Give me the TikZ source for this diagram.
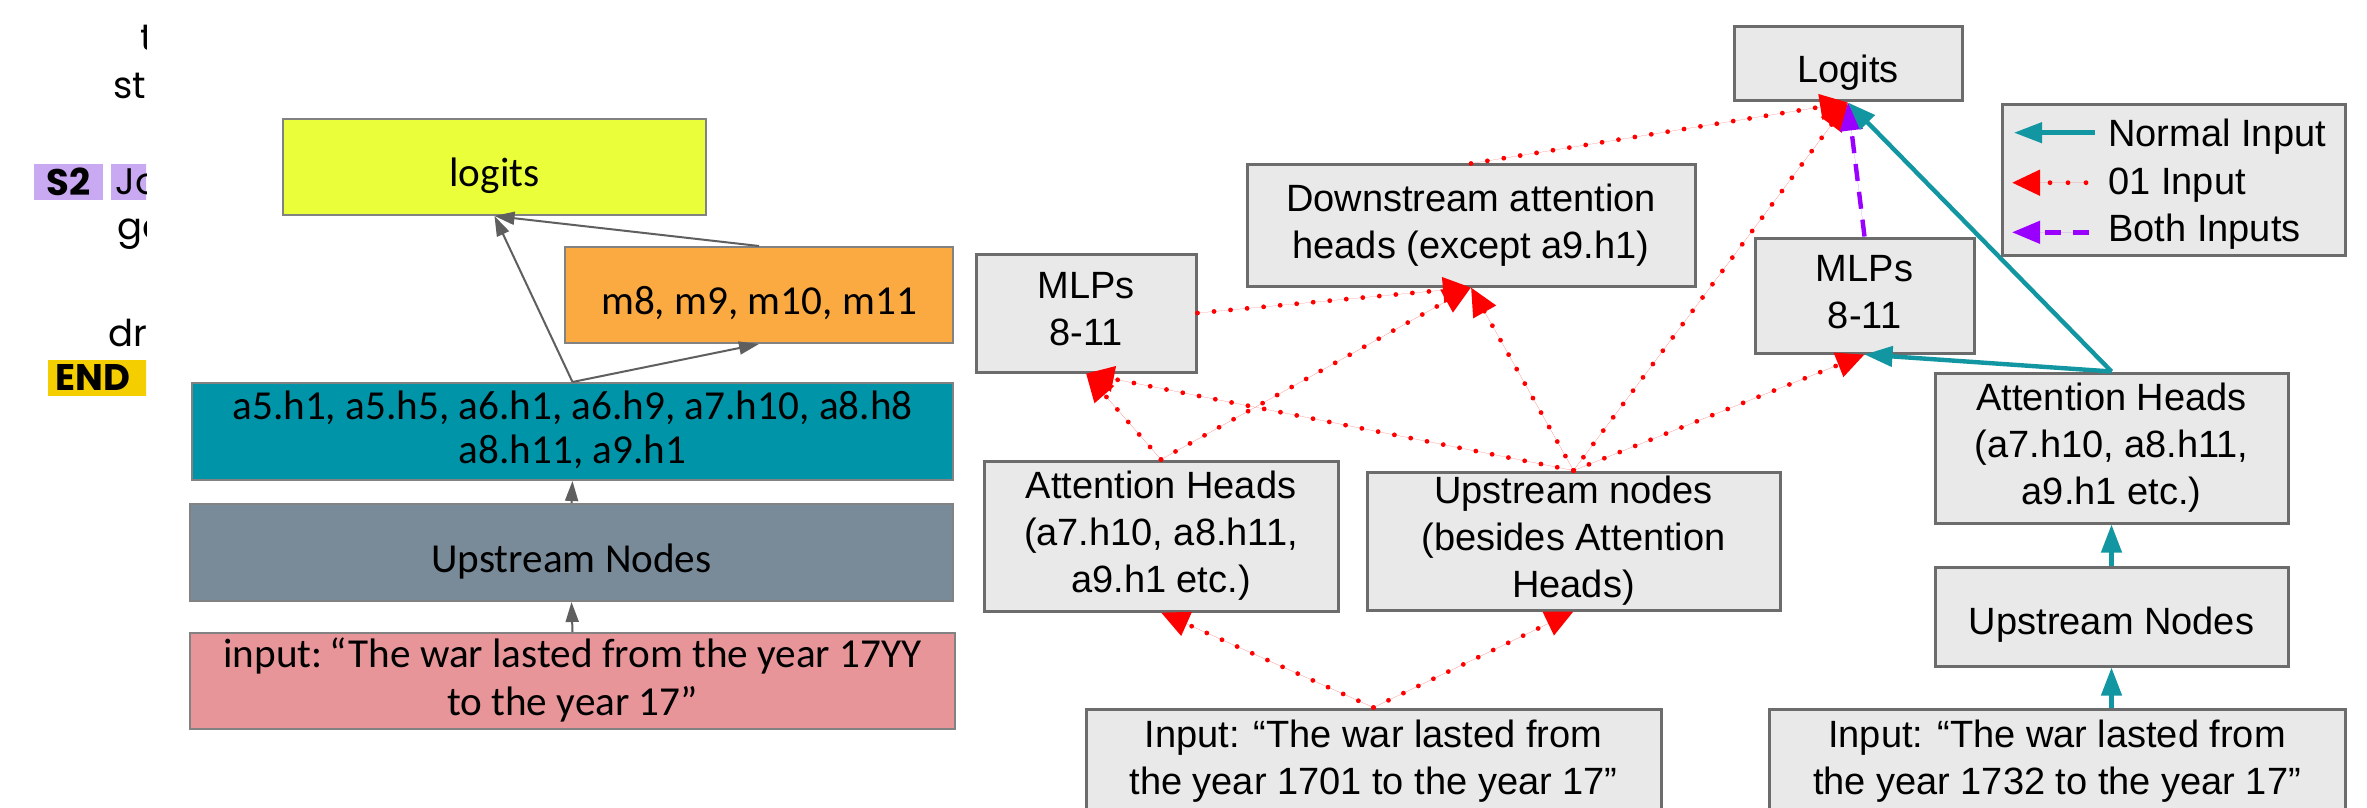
\documentclass[tikz,border=0pt]{standalone}
\usepackage{fontspec}
\setmainfont{Liberation Sans}
\newfontfamily\carlfont{Carlito}
\newfontfamily\popfont{Poppins}
\usetikzlibrary{arrows.meta}

\definecolor{boxfill}{RGB}{233,233,233}
\definecolor{boxline}{RGB}{108,108,108}
\definecolor{redline}{RGB}{255,0,0}
\definecolor{tealline}{RGB}{18,150,162}
\definecolor{purpline}{RGB}{153,0,255}
\definecolor{ylw}{RGB}{234,255,58}
\definecolor{org}{RGB}{250,170,64}
\definecolor{tealbox}{RGB}{0,148,168}
\definecolor{slate}{RGB}{121,139,153}
\definecolor{pinkbox}{RGB}{232,149,153}
\definecolor{lav}{RGB}{201,170,242}
\definecolor{gold}{RGB}{245,206,0}
\definecolor{grayarrow}{RGB}{95,95,95}

% struts: extra room above the first line, font descent below the last
\newcommand\topstrut{\rule{0pt}{1.17em}}
\newcommand\botstrut{\rule[-0.21em]{0pt}{0.21em}}

\begin{document}
\begin{tikzpicture}[x=0.5pt,y=-0.5pt,
  gbox/.style={draw=boxline, line width=1.5pt, fill=boxfill, inner sep=0pt,
    align=center, font=\fontsize{19}{23.5}\selectfont,
    execute at begin node=\topstrut, execute at end node=\botstrut},
  lbox/.style={draw=boxline!85, line width=1pt, inner sep=0pt, align=center,
    font=\carlfont\fontsize{20.6}{22}\selectfont,
    execute at begin node=\topstrut, execute at end node=\botstrut},
  grayarr/.style={draw=grayarrow, line width=1pt,
    -{Triangle[length=10pt,width=6.5pt]}, fill=grayarrow},
  zeroone/.style={draw=redline, line width=2.4pt, line cap=round,
    dash pattern=on 0pt off 8.3pt,
    -{Triangle[length=14pt,width=12.5pt]}, fill=redline},
  normalin/.style={draw=tealline, line width=2.2pt,
    -{Triangle[length=14pt,width=10pt]}, fill=tealline},
  bothin/.style={draw=purpline, line width=2.2pt,
    dash pattern=on 8.5pt off 5.5pt,
    -{Triangle[length=14pt,width=11pt]}, fill=purpline},
  sidetext/.style={anchor=base west, inner sep=0pt,
    font=\popfont\fontsize{18.5}{22}\selectfont},
  legtext/.style={anchor=base west, inner sep=0pt,
    font=\fontsize{19}{23.5}\selectfont}]

\useasboundingbox (0,0) rectangle (2367,808);
\fill[white] (0,0) rectangle (2367,808);

% ---- cropped column of text at the far left ----
\begin{scope}
  \clip (0,0) rectangle (146,808);
  \node[sidetext] (wt) at (140,51) {t};
  \node[sidetext] (wst) at (113,99) {st};
  \node[fill=lav, inner sep=0pt, minimum width=34.5pt, minimum height=18pt,
        font=\popfont\bfseries\fontsize{18.5}{22}\selectfont] (s2) at (68.5,182) {S2};
  \node[fill=lav, anchor=west, inner xsep=2pt, inner ysep=0pt, text width=24pt,
        align=left, minimum height=18pt,
        font=\popfont\fontsize{18.5}{22}\selectfont] (jo) at (111,182) {Jo};
  \node[sidetext] (wga) at (117,239) {ga};
  \node[sidetext] (wdr) at (108,346) {dr};
  \node[fill=gold, anchor=west, inner xsep=3.5pt, inner ysep=0pt, text width=52pt,
        align=left, minimum height=18pt,
        font=\popfont\bfseries\fontsize{18.5}{22}\selectfont] (endtok) at (48,378) {END};
\end{scope}

% ---- left graph: coloured boxes ----
\node[lbox, fill=ylw, minimum width=211.5pt, minimum height=48pt] (logL) at (494.5,167) {logits};
\node[lbox, fill=org, minimum width=194pt, minimum height=48pt] (mlpsL) at (759,295) {m8, m9, m10, m11};
\node[lbox, fill=tealbox, minimum width=380.5pt, minimum height=48.5pt] (heads) at (572.5,431.5)
  {a5.h1, a5.h5, a6.h1, a6.h9, a7.h10, a8.h8\\a8.h11, a9.h1};
\node[lbox, fill=slate, minimum width=381.5pt, minimum height=48.5pt] (upL) at (571.5,552.5) {Upstream Nodes};
\node[lbox, fill=pinkbox, minimum width=382.5pt, minimum height=48pt,
      font=\carlfont\fontsize{20.6}{24}\selectfont] (inL) at (572.5,681)
  {input:\,“The war lasted from the year 17YY\\to the year 17”};

\draw[grayarr] (heads.north) -- (logL.south);
\draw[grayarr] (heads.north) -- (mlpsL.south);
\draw[grayarr] (mlpsL.north) -- (logL.south);
\draw[grayarr] (upL.north) -- (heads.south);
\draw[grayarr] (inL.north) -- (upL.south);

% ---- right graph: grey boxes ----
\node[gbox, minimum width=114pt, minimum height=37pt] (logR) at (1848,64) {Logits};
\node[gbox, minimum width=224pt, minimum height=60.5pt] (down) at (1471,225.5)
  {Downstream attention\\heads (except a9.h1)};
\node[gbox, minimum width=110pt, minimum height=59pt] (mlpA) at (1086,313) {MLPs\\8-11};
\node[gbox, minimum width=109.5pt, minimum height=57.5pt] (mlpB) at (1864.5,295.5) {MLPs\\8-11};
\node[gbox, minimum width=177pt, minimum height=75pt] (attA) at (1161,536)
  {Attention Heads\\(a7.h10, a8.h11,\\a9.h1 etc.)};
\node[gbox, minimum width=206.5pt, minimum height=69pt] (upA) at (1573.5,541)
  {Upstream nodes\\(besides Attention\\Heads)};
\node[gbox, minimum width=176.5pt, minimum height=75pt] (attB) at (2111.5,448)
  {Attention Heads\\(a7.h10, a8.h11,\\a9.h1 etc.)};
\node[gbox, minimum width=176.5pt, minimum height=49.5pt] (upB) at (2111.5,616.5) {Upstream Nodes};
\node[gbox, minimum width=287.5pt, minimum height=52pt] (inA) at (1373.5,761)
  {Input: “The war lasted from\\the year 1701 to the year 17”};
\node[gbox, minimum width=288pt, minimum height=52pt] (inB) at (2057,761)
  {Input: “The war lasted from\\the year 1732 to the year 17”};

% corrupted-input (01) connections
\draw[zeroone] (down.north) -- (logR.south);
\draw[zeroone] (mlpA.east) -- (down.south);
\draw[zeroone] (attA.north) -- (down.south);
\draw[zeroone] (attA.north) -- (mlpA.south);
\draw[zeroone] (upA.north) -- (mlpA.south);
\draw[zeroone] (upA.north) -- (down.south);
\draw[zeroone] (upA.north) -- (logR.south);
\draw[zeroone] (upA.north) -- (mlpB.south);
\draw[zeroone] (inA.north) -- (attA.south);
\draw[zeroone] (inA.north) -- (upA.south);

% connection fed by both inputs
\draw[bothin] (mlpB.north) -- (logR.south);

% clean-input connections
\draw[normalin] (attB.north) -- (mlpB.south);
\draw[normalin] (attB.north) -- (logR.south);
\draw[normalin] (upB.north) -- (attB.south);
\draw[normalin] (upB.south |- inB.north) -- (upB.south);

% ---- legend ----
\node[gbox, minimum width=171.5pt, minimum height=75pt] (legend) at (2173.5,180) {};
\node[legtext] (legN) at (2108,146.5) {Normal Input};
\node[legtext] (legZ) at (2108,194) {01 Input};
\node[legtext] (legB) at (2108,241) {Both Inputs};
\coordinate (legNa) at (2095,132.7);
\coordinate (legNb) at (2014,132.7);
\coordinate (legZa) at (2086,182.7);
\coordinate (legZb) at (2012,182.7);
\coordinate (legBa) at (2089,232.3);
\coordinate (legBb) at (2012,232.3);
\draw[normalin] (legNa) -- (legNb);
\draw[zeroone, dash pattern=on 0pt off 9pt] (legZa) -- (legZb);
\draw[bothin, dash pattern=on 8pt off 6pt] (legBa) -- (legBb);

\end{tikzpicture}
\end{document}
